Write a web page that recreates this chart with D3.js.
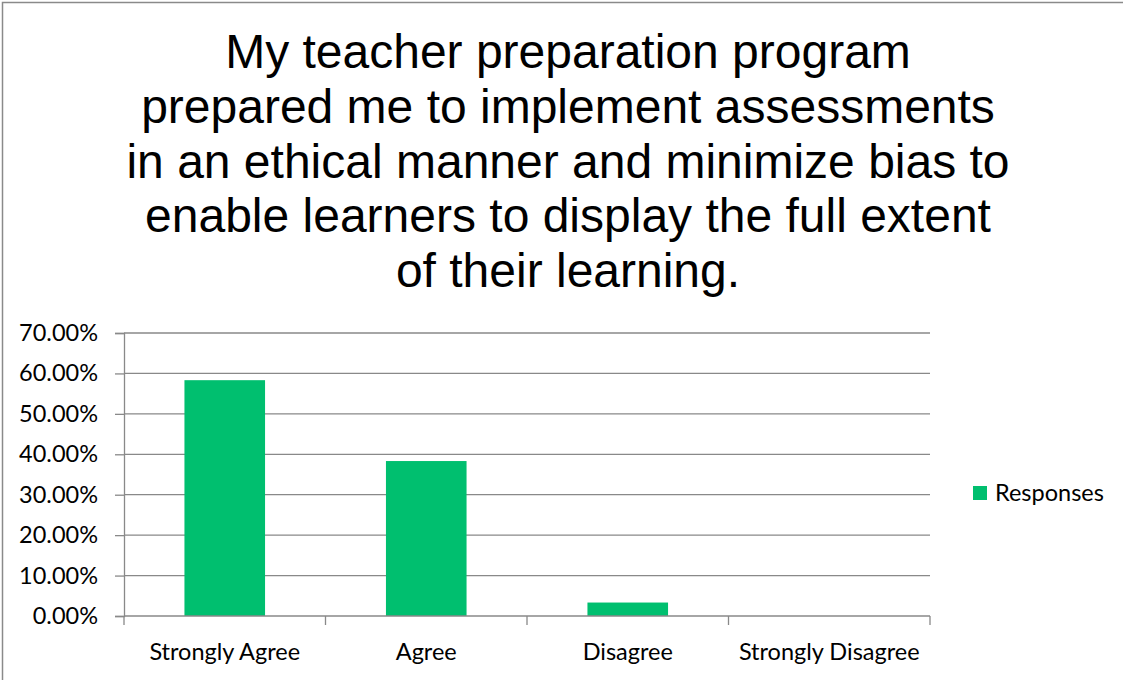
<!DOCTYPE html>
<html>
<head>
<meta charset="utf-8">
<script src="https://cdn.jsdelivr.net/npm/d3@7"></script>
<style>
  html, body { margin: 0; padding: 0; background: #fff; }
</style>
</head>
<body>
<div class="chart"></div>
<script>
// data
const categories = ['Strongly Agree', 'Agree', 'Disagree', 'Strongly Disagree'];
const responses = [0.5833, 0.3833, 0.0333, 0];
const yTicks = [0, 0.1, 0.2, 0.3, 0.4, 0.5, 0.6, 0.7];
const titleLines = [
  'My teacher preparation program',
  'prepared me to implement assessments',
  'in an ethical manner and minimize bias to',
  'enable learners to display the full extent',
  'of their learning.'
];
const seriesName = 'Responses';

const width = 1123;
const height = 680;
const plot = { left: 124, right: 930, top: 333, bottom: 616 };
const barColor = '#00bf6f';
const gridColor = '#898989';
const labelFont = 'Lato, "Open Sans", sans-serif';
const labelSize = 23.5;

let svg = d3.select('.chart')
  .append('svg')
  .attr('width', width)
  .attr('height', height)
  .style('display', 'block');

// chart area border
svg.append('rect')
  .attr('x', 2.5)
  .attr('y', 2.5)
  .attr('width', 1300)
  .attr('height', 900)
  .attr('fill', '#fff')
  .attr('stroke', '#8a8a8a')
  .attr('stroke-width', 1.5);

// title
svg.append('text')
  .attr('text-anchor', 'middle')
  .attr('font-family', '"Liberation Sans", Arial, sans-serif')
  .attr('font-size', 48)
  .attr('fill', '#000')
  .selectAll('tspan')
  .data(titleLines)
  .enter()
  .append('tspan')
  .attr('x', 568)
  .attr('y', (d, i) => 68 + i * 54.8)
  .text(d => d);

// scales
let x = d3.scaleBand()
  .domain(categories)
  .range([plot.left, plot.right])
  .paddingInner(0.6)
  .paddingOuter(0.3);

let y = d3.scaleLinear()
  .domain([0, 0.7])
  .range([plot.bottom, plot.top]);

// gridlines
svg.append('g')
  .selectAll('line')
  .data(yTicks.slice(1))
  .enter()
  .append('line')
  .attr('x1', plot.left)
  .attr('x2', plot.right)
  .attr('y1', d => y(d))
  .attr('y2', d => y(d))
  .attr('stroke', gridColor)
  .attr('stroke-width', 1.3);

// y axis
let yAxis = svg.append('g')
  .attr('transform', `translate(${plot.left},0)`)
  .call(d3.axisLeft(y).tickValues(yTicks).tickFormat(d3.format('.2%')).tickSizeOuter(0).tickSize(9).tickPadding(17));
yAxis.select('.domain').attr('stroke', gridColor).attr('stroke-width', 1.3);
yAxis.selectAll('.tick line').attr('stroke', gridColor).attr('stroke-width', 1.3);
yAxis.selectAll('.tick text')
  .attr('font-family', labelFont)
  .attr('font-size', labelSize)
  .attr('fill', '#000');

// bars
svg.append('g')
  .selectAll('rect')
  .data(responses)
  .enter()
  .append('rect')
  .attr('x', (d, i) => x(categories[i]))
  .attr('y', d => y(d))
  .attr('width', x.bandwidth())
  .attr('height', d => y(0) - y(d))
  .attr('fill', barColor);

// x axis, ticks sit between categories
let boundaries = d3.range(categories.length + 1).map(i => plot.left + i * x.step());
let xAxis = svg.append('g');
xAxis.append('line')
  .attr('x1', plot.left)
  .attr('x2', plot.right)
  .attr('y1', plot.bottom)
  .attr('y2', plot.bottom)
  .attr('stroke', gridColor)
  .attr('stroke-width', 1.3);
xAxis.selectAll('.xtick')
  .data(boundaries)
  .enter()
  .append('line')
  .attr('class', 'xtick')
  .attr('x1', d => d)
  .attr('x2', d => d)
  .attr('y1', plot.bottom)
  .attr('y2', plot.bottom + 9)
  .attr('stroke', gridColor)
  .attr('stroke-width', 1.3);
xAxis.selectAll('.xlabel')
  .data(categories)
  .enter()
  .append('text')
  .attr('class', 'xlabel')
  .attr('x', d => x(d) + x.bandwidth() / 2)
  .attr('y', 660)
  .attr('text-anchor', 'middle')
  .attr('font-family', labelFont)
  .attr('font-size', labelSize)
  .attr('fill', '#000')
  .text(d => d);

// legend
let legend = svg.append('g')
  .attr('transform', 'translate(973,486)');
legend.append('rect')
  .attr('width', 14)
  .attr('height', 14)
  .attr('fill', barColor);
legend.append('text')
  .attr('x', 22)
  .attr('y', 14.5)
  .attr('font-family', labelFont)
  .attr('font-size', labelSize)
  .attr('fill', '#000')
  .text(seriesName);
</script>
</body>
</html>
